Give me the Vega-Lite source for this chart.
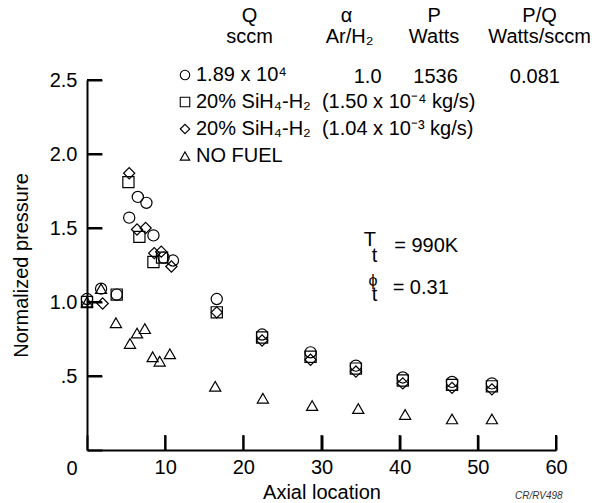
{
  "$schema": "https://vega.github.io/schema/vega-lite/v6.json",
  "width": 469,
  "height": 370,
  "autosize": "none",
  "padding": {"left": 87, "top": 80, "right": 45, "bottom": 53},
  "background": "white",
  "config": {
    "view": {"stroke": null},
    "font": "Liberation Sans",
    "text": {"font": "Liberation Sans", "fontSize": 20, "color": "black"}
  },
  "datasets": {
    "points": [
      {"series": "1.89 x 10⁴", "x": 0, "y": 1.02},
      {"series": "1.89 x 10⁴", "x": 1.8, "y": 1.09},
      {"series": "1.89 x 10⁴", "x": 3.8, "y": 1.05},
      {"series": "1.89 x 10⁴", "x": 5.4, "y": 1.57},
      {"series": "1.89 x 10⁴", "x": 6.5, "y": 1.71},
      {"series": "1.89 x 10⁴", "x": 7.6, "y": 1.67},
      {"series": "1.89 x 10⁴", "x": 8.5, "y": 1.45},
      {"series": "1.89 x 10⁴", "x": 9.8, "y": 1.3},
      {"series": "1.89 x 10⁴", "x": 11.0, "y": 1.28},
      {"series": "1.89 x 10⁴", "x": 16.6, "y": 1.02},
      {"series": "1.89 x 10⁴", "x": 22.4, "y": 0.78},
      {"series": "1.89 x 10⁴", "x": 28.6, "y": 0.66},
      {"series": "1.89 x 10⁴", "x": 34.4, "y": 0.57},
      {"series": "1.89 x 10⁴", "x": 40.4, "y": 0.49},
      {"series": "1.89 x 10⁴", "x": 46.7, "y": 0.46},
      {"series": "1.89 x 10⁴", "x": 51.8, "y": 0.45},
      {"series": "20% SiH₄-H₂  (1.50 x 10⁻⁴ kg/s)", "x": 0, "y": 1.0},
      {"series": "20% SiH₄-H₂  (1.50 x 10⁻⁴ kg/s)", "x": 3.8, "y": 1.05},
      {"series": "20% SiH₄-H₂  (1.50 x 10⁻⁴ kg/s)", "x": 5.3, "y": 1.81},
      {"series": "20% SiH₄-H₂  (1.50 x 10⁻⁴ kg/s)", "x": 6.7, "y": 1.44},
      {"series": "20% SiH₄-H₂  (1.50 x 10⁻⁴ kg/s)", "x": 8.5, "y": 1.27},
      {"series": "20% SiH₄-H₂  (1.50 x 10⁻⁴ kg/s)", "x": 9.6, "y": 1.3},
      {"series": "20% SiH₄-H₂  (1.50 x 10⁻⁴ kg/s)", "x": 16.6, "y": 0.93},
      {"series": "20% SiH₄-H₂  (1.50 x 10⁻⁴ kg/s)", "x": 22.4, "y": 0.76},
      {"series": "20% SiH₄-H₂  (1.50 x 10⁻⁴ kg/s)", "x": 28.6, "y": 0.63},
      {"series": "20% SiH₄-H₂  (1.50 x 10⁻⁴ kg/s)", "x": 34.4, "y": 0.55},
      {"series": "20% SiH₄-H₂  (1.50 x 10⁻⁴ kg/s)", "x": 40.4, "y": 0.47},
      {"series": "20% SiH₄-H₂  (1.50 x 10⁻⁴ kg/s)", "x": 46.7, "y": 0.44},
      {"series": "20% SiH₄-H₂  (1.50 x 10⁻⁴ kg/s)", "x": 51.8, "y": 0.43},
      {"series": "20% SiH₄-H₂  (1.04 x 10⁻³ kg/s)", "x": 2.0, "y": 0.99},
      {"series": "20% SiH₄-H₂  (1.04 x 10⁻³ kg/s)", "x": 5.4, "y": 1.87},
      {"series": "20% SiH₄-H₂  (1.04 x 10⁻³ kg/s)", "x": 6.4, "y": 1.49},
      {"series": "20% SiH₄-H₂  (1.04 x 10⁻³ kg/s)", "x": 7.5, "y": 1.5},
      {"series": "20% SiH₄-H₂  (1.04 x 10⁻³ kg/s)", "x": 8.6, "y": 1.33},
      {"series": "20% SiH₄-H₂  (1.04 x 10⁻³ kg/s)", "x": 9.5, "y": 1.34},
      {"series": "20% SiH₄-H₂  (1.04 x 10⁻³ kg/s)", "x": 10.8, "y": 1.24},
      {"series": "20% SiH₄-H₂  (1.04 x 10⁻³ kg/s)", "x": 16.6, "y": 0.93},
      {"series": "20% SiH₄-H₂  (1.04 x 10⁻³ kg/s)", "x": 22.4, "y": 0.74},
      {"series": "20% SiH₄-H₂  (1.04 x 10⁻³ kg/s)", "x": 28.6, "y": 0.61},
      {"series": "20% SiH₄-H₂  (1.04 x 10⁻³ kg/s)", "x": 34.4, "y": 0.53},
      {"series": "20% SiH₄-H₂  (1.04 x 10⁻³ kg/s)", "x": 40.4, "y": 0.45},
      {"series": "20% SiH₄-H₂  (1.04 x 10⁻³ kg/s)", "x": 46.7, "y": 0.42},
      {"series": "20% SiH₄-H₂  (1.04 x 10⁻³ kg/s)", "x": 51.8, "y": 0.41},
      {"series": "NO FUEL", "x": 0, "y": 1.0},
      {"series": "NO FUEL", "x": 1.8, "y": 1.09},
      {"series": "NO FUEL", "x": 3.7, "y": 0.86},
      {"series": "NO FUEL", "x": 5.5, "y": 0.72},
      {"series": "NO FUEL", "x": 6.4, "y": 0.79},
      {"series": "NO FUEL", "x": 7.4, "y": 0.82},
      {"series": "NO FUEL", "x": 8.4, "y": 0.63},
      {"series": "NO FUEL", "x": 9.3, "y": 0.6},
      {"series": "NO FUEL", "x": 10.6, "y": 0.65},
      {"series": "NO FUEL", "x": 16.4, "y": 0.43},
      {"series": "NO FUEL", "x": 22.5, "y": 0.35},
      {"series": "NO FUEL", "x": 28.8, "y": 0.3},
      {"series": "NO FUEL", "x": 34.7, "y": 0.28},
      {"series": "NO FUEL", "x": 40.7, "y": 0.24},
      {"series": "NO FUEL", "x": 46.7, "y": 0.21},
      {"series": "NO FUEL", "x": 51.8, "y": 0.21}
    ],
    "yTicks": [{"tv": 0.5}, {"tv": 1.0}, {"tv": 1.5}, {"tv": 2.0}, {"tv": 2.5}],
    "xTicks": [{"tv": 10}, {"tv": 20}, {"tv": 30}, {"tv": 40}, {"tv": 50}, {"tv": 60}],
    "notesCenter": [
      {"x": 20.8, "y": 2.93, "label": "Q"},
      {"x": 20.8, "y": 2.79, "label": "sccm"},
      {"x": 33.2, "y": 2.93, "label": "α"},
      {"x": 33.6, "y": 2.79, "label": "Ar/H₂"},
      {"x": 44.4, "y": 2.93, "label": "P"},
      {"x": 44.4, "y": 2.79, "label": "Watts"},
      {"x": 57.9, "y": 2.93, "label": "P/Q"},
      {"x": 57.9, "y": 2.79, "label": "Watts/sccm"},
      {"x": 35.9, "y": 2.52, "label": "1.0"},
      {"x": 44.6, "y": 2.52, "label": "1536"},
      {"x": 57.3, "y": 2.52, "label": "0.081"},
      {"x": 36.2, "y": 1.42, "label": "T"},
      {"x": 36.8, "y": 1.31, "label": "t"},
      {"x": 36.8, "y": 1.05, "label": "t"}
    ],
    "notesPhi": [
      {"x": 36.6, "y": 1.14, "label": "ϕ"}
    ],
    "notesLeft": [
      {"x": 39.3, "y": 1.378, "label": "= 990K"},
      {"x": 39.1, "y": 1.095, "label": "= 0.31"}
    ],
    "stamp": [
      {"x": 57.8, "y": -0.31, "label": "CR/RV498"}
    ]
  },
  "layer": [
    {
      "data": {"name": "points"},
      "mark": {"type": "point", "filled": false, "stroke": "black", "strokeWidth": 1.2, "opacity": 1, "size": 125},
      "encoding": {
        "x": {
          "field": "x",
          "type": "quantitative",
          "scale": {"domain": [0, 60], "nice": false, "zero": false},
          "axis": {
            "title": "Axial location",
            "values": [0, 10, 20, 30, 40, 50, 60],
            "labelExpr": "datum.value === 0 ? '' : datum.label",
            "grid": false,
            "ticks": true,
            "tickSize": -15,
            "tickWidth": 2,
            "tickColor": "black",
            "tickOpacity": 1,
            "domainColor": "black",
            "domainWidth": 2,
            "labelPadding": 22,
            "labelFlush": false,
            "labelOverlap": false,
            "labelFont": "Liberation Sans",
            "labelFontSize": 20,
            "labelColor": "black",
            "titleFont": "Liberation Sans",
            "titleFontSize": 20,
            "titleFontWeight": "normal",
            "titleColor": "black",
            "titlePadding": 5
          }
        },
        "y": {
          "field": "y",
          "type": "quantitative",
          "scale": {"domain": [0, 2.5], "nice": false, "zero": false},
          "axis": {
            "title": "Normalized pressure",
            "values": [0, 0.5, 1, 1.5, 2, 2.5],
            "labelExpr": "datum.value === 0 ? '0' : datum.value === 0.5 ? '.5' : format(datum.value, '.1f')",
            "grid": false,
            "ticks": true,
            "tickSize": -15,
            "tickWidth": 2,
            "tickColor": "black",
            "tickOpacity": 1,
            "domainColor": "black",
            "domainWidth": 2,
            "labelPadding": 25,
            "labelOffset": {"condition": {"test": "datum.value === 0", "value": 18}, "value": 0},
            "labelOverlap": false,
            "labelFlush": false,
            "labelFont": "Liberation Sans",
            "labelFontSize": 20,
            "labelColor": "black",
            "titleFont": "Liberation Sans",
            "titleFontSize": 20,
            "titleFontWeight": "normal",
            "titleColor": "black",
            "titlePadding": 18
          }
        },
        "shape": {
          "field": "series",
          "type": "nominal",
          "scale": {
            "domain": ["1.89 x 10⁴", "20% SiH₄-H₂  (1.50 x 10⁻⁴ kg/s)", "20% SiH₄-H₂  (1.04 x 10⁻³ kg/s)", "NO FUEL"],
            "range": ["circle", "square", "diamond", "triangle-up"]
          },
          "legend": {
            "title": null,
            "orient": "none",
            "legendX": 88,
            "legendY": -15,
            "padding": 0,
            "labelFont": "Liberation Sans",
            "labelFontSize": 20,
            "labelColor": "black",
            "labelLimit": 600,
            "labelOffset": 1,
            "labelExpr": "replace(datum.label, '  (', '\u00a0\u00a0(')",
            "symbolSize": 90,
            "symbolStrokeColor": "black",
            "symbolFillColor": "transparent",
            "symbolStrokeWidth": 1.1,
            "rowPadding": 7
          }
        }
      }
    },
    {
      "data": {"name": "yTicks"},
      "mark": {"type": "tick", "color": "black", "orient": "horizontal", "size": 15, "thickness": 2, "opacity": 1},
      "encoding": {
        "y": {"field": "tv", "type": "quantitative"},
        "x": {"datum": 0.96, "type": "quantitative"}
      }
    },
    {
      "data": {"name": "xTicks"},
      "mark": {"type": "tick", "color": "black", "orient": "vertical", "size": 15, "thickness": 2, "opacity": 1},
      "encoding": {
        "x": {"field": "tv", "type": "quantitative"},
        "y": {"datum": 0.05, "type": "quantitative"}
      }
    },
    {
      "data": {"name": "notesCenter"},
      "mark": {"type": "text", "align": "center", "baseline": "middle", "fontSize": 20},
      "encoding": {
        "x": {"field": "x", "type": "quantitative"},
        "y": {"field": "y", "type": "quantitative"},
        "text": {"field": "label"}
      }
    },
    {
      "data": {"name": "notesPhi"},
      "mark": {"type": "text", "align": "center", "baseline": "middle", "fontSize": 16},
      "encoding": {
        "x": {"field": "x", "type": "quantitative"},
        "y": {"field": "y", "type": "quantitative"},
        "text": {"field": "label"}
      }
    },
    {
      "data": {"name": "notesLeft"},
      "mark": {"type": "text", "align": "left", "baseline": "middle", "fontSize": 20},
      "encoding": {
        "x": {"field": "x", "type": "quantitative"},
        "y": {"field": "y", "type": "quantitative"},
        "text": {"field": "label"}
      }
    },
    {
      "data": {"name": "stamp"},
      "mark": {"type": "text", "align": "center", "baseline": "middle", "fontSize": 10, "fontStyle": "italic", "color": "#333333"},
      "encoding": {
        "x": {"field": "x", "type": "quantitative"},
        "y": {"field": "y", "type": "quantitative"},
        "text": {"field": "label"}
      }
    }
  ]
}
